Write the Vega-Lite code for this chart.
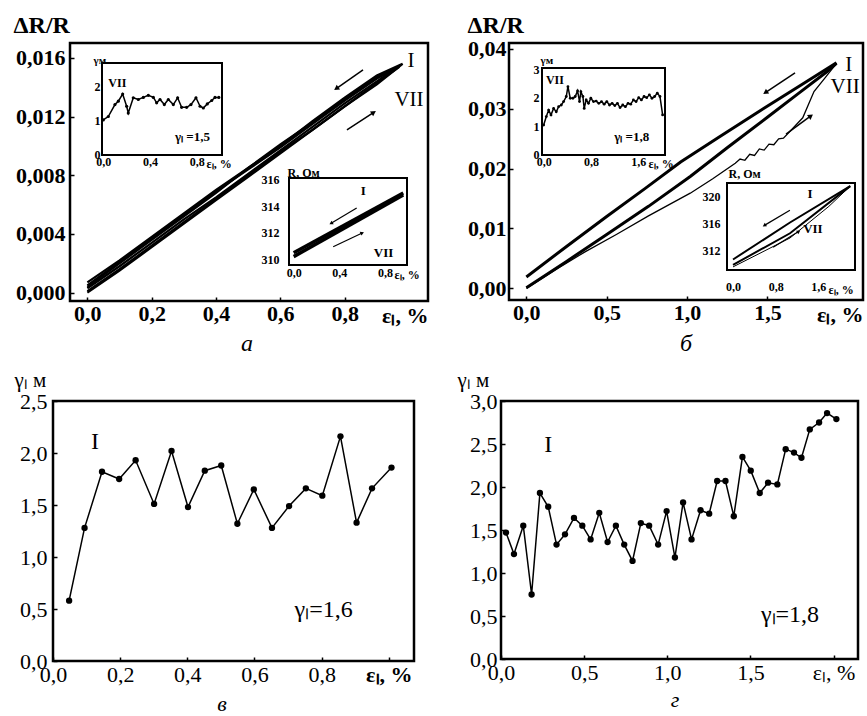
{
"$schema": "https://vega.github.io/schema/vega-lite/v6.json",
"width": 867, "height": 716, "autosize": {"type": "none"}, "padding": 0,
"background": "white",
"config": {
 "view": {"stroke": null},
 "font": "Liberation Serif",
 "style": {"guide-label": {"font": "Liberation Serif"}, "guide-title": {"font": "Liberation Serif"}},
 "axis": {"grid": false, "domain": false, "ticks": true, "tickColor": "black", "tickWidth": 1.5, "labelColor": "black", "titleColor": "black", "labelFont": "Liberation Serif", "titleFont": "Liberation Serif", "labelFlush": false, "labelOverlap": false, "zindex": 1, "titleFontWeight": "normal", "titlePadding": 0},
 "text": {"font": "Liberation Serif", "color": "black"},
 "line": {"color": "black"},
 "point": {"color": "black"}
},
"datasets": {
 "aLoop": [
  {"c":1,"o":0,"e":0,"v":0.0001},{"c":1,"o":1,"e":0.1,"v":0.0016},{"c":1,"o":2,"e":0.2,"v":0.0032},{"c":1,"o":3,"e":0.3,"v":0.0048},{"c":1,"o":4,"e":0.4,"v":0.0064},{"c":1,"o":5,"e":0.5,"v":0.008},{"c":1,"o":6,"e":0.6,"v":0.0096},{"c":1,"o":7,"e":0.7,"v":0.0111},{"c":1,"o":8,"e":0.8,"v":0.0127},{"c":1,"o":9,"e":0.9,"v":0.0143},{"c":1,"o":10,"e":0.97,"v":0.0154},
  {"c":1,"o":11,"e":0.9,"v":0.0146},{"c":1,"o":12,"e":0.8,"v":0.0131},{"c":1,"o":13,"e":0.7,"v":0.0115},{"c":1,"o":14,"e":0.6,"v":0.0099},{"c":1,"o":15,"e":0.5,"v":0.0084},{"c":1,"o":16,"e":0.4,"v":0.0069},{"c":1,"o":17,"e":0.3,"v":0.0053},{"c":1,"o":18,"e":0.2,"v":0.0037},{"c":1,"o":19,"e":0.1,"v":0.0021},{"c":1,"o":20,"e":0,"v":0.0005},
  {"c":2,"o":0,"e":0,"v":0.0003},{"c":2,"o":1,"e":0.1,"v":0.0018},{"c":2,"o":2,"e":0.2,"v":0.0034},{"c":2,"o":3,"e":0.3,"v":0.005},{"c":2,"o":4,"e":0.4,"v":0.0065},{"c":2,"o":5,"e":0.5,"v":0.0081},{"c":2,"o":6,"e":0.6,"v":0.0097},{"c":2,"o":7,"e":0.7,"v":0.0113},{"c":2,"o":8,"e":0.8,"v":0.0129},{"c":2,"o":9,"e":0.9,"v":0.0144},{"c":2,"o":10,"e":0.96,"v":0.0153},
  {"c":2,"o":11,"e":0.9,"v":0.0147},{"c":2,"o":12,"e":0.8,"v":0.0132},{"c":2,"o":13,"e":0.7,"v":0.0116},{"c":2,"o":14,"e":0.6,"v":0.0101},{"c":2,"o":15,"e":0.5,"v":0.0085},{"c":2,"o":16,"e":0.4,"v":0.007},{"c":2,"o":17,"e":0.3,"v":0.0054},{"c":2,"o":18,"e":0.2,"v":0.0038},{"c":2,"o":19,"e":0.1,"v":0.0022},{"c":2,"o":20,"e":0,"v":0.0007},
  {"c":3,"o":0,"e":0,"v":0.0},{"c":3,"o":1,"e":0.1,"v":0.0015},{"c":3,"o":2,"e":0.2,"v":0.0031},{"c":3,"o":3,"e":0.3,"v":0.0047},{"c":3,"o":4,"e":0.4,"v":0.0063},{"c":3,"o":5,"e":0.5,"v":0.0079},{"c":3,"o":6,"e":0.6,"v":0.0095},{"c":3,"o":7,"e":0.7,"v":0.0111},{"c":3,"o":8,"e":0.8,"v":0.0127},{"c":3,"o":9,"e":0.9,"v":0.0142},{"c":3,"o":10,"e":0.98,"v":0.0156},
  {"c":3,"o":11,"e":0.9,"v":0.0148},{"c":3,"o":12,"e":0.8,"v":0.0133},{"c":3,"o":13,"e":0.7,"v":0.0117},{"c":3,"o":14,"e":0.6,"v":0.01},{"c":3,"o":15,"e":0.5,"v":0.0085},{"c":3,"o":16,"e":0.4,"v":0.0068},{"c":3,"o":17,"e":0.3,"v":0.0052},{"c":3,"o":18,"e":0.2,"v":0.0036},{"c":3,"o":19,"e":0.1,"v":0.002},{"c":3,"o":20,"e":0,"v":0.0004}
 ],
 "aArrow": [
  {"a":"back","o":0,"e":0.857,"v":0.01518},{"a":"back","o":1,"e":0.776,"v":0.01395},
  {"a":"fwd","o":0,"e":0.807,"v":0.01109},{"a":"fwd","o":1,"e":0.888,"v":0.01225}
 ],
 "a1": [
  {"e":0,"g":1.01},{"e":0.043,"g":1.11},{"e":0.1,"g":1.46},{"e":0.129,"g":1.56},{"e":0.166,"g":1.77},{"e":0.2,"g":1.41},{"e":0.214,"g":1.21},{"e":0.257,"g":1.66},{"e":0.3,"g":1.61},{"e":0.343,"g":1.67},{"e":0.386,"g":1.73},{"e":0.429,"g":1.67},{"e":0.457,"g":1.51},{"e":0.486,"g":1.61},{"e":0.523,"g":1.46},{"e":0.557,"g":1.61},{"e":0.6,"g":1.46},{"e":0.637,"g":1.66},{"e":0.671,"g":1.38},{"e":0.714,"g":1.38},{"e":0.751,"g":1.46},{"e":0.794,"g":1.66},{"e":0.829,"g":1.41},{"e":0.857,"g":1.36},{"e":0.891,"g":1.48},{"e":0.929,"g":1.58},{"e":0.957,"g":1.67},{"e":0.99,"g":1.67}
 ],
 "a2": [
  {"l":"lo","o":0,"e":0,"r":310.2},{"l":"lo","o":1,"e":0.96,"r":314.85},
  {"l":"hi","o":0,"e":0,"r":310.5},{"l":"hi","o":1,"e":0.96,"r":315.0}
 ],
 "a2Arrow": [
  {"a":"back","o":0,"e":0.552,"r":313.86},{"a":"back","o":1,"e":0.332,"r":312.73},
  {"a":"fwd","o":0,"e":0.346,"r":310.95},{"a":"fwd","o":1,"e":0.596,"r":311.97}
 ],
 "bMain": [
  {"s":"up","o":0,"e":0,"v":0.0019},{"s":"up","o":1,"e":0.25,"v":0.007},{"s":"up","o":2,"e":0.5,"v":0.012},{"s":"up","o":3,"e":0.74,"v":0.0167},{"s":"up","o":4,"e":0.96,"v":0.0211},{"s":"up","o":5,"e":1.2,"v":0.0253},{"s":"up","o":6,"e":1.45,"v":0.0296},{"s":"up","o":7,"e":1.7,"v":0.0338},{"s":"up","o":8,"e":1.93,"v":0.0377},
  {"s":"mid","o":0,"e":0,"v":0.0001},{"s":"mid","o":1,"e":0.25,"v":0.0045},{"s":"mid","o":2,"e":0.5,"v":0.009},{"s":"mid","o":3,"e":0.76,"v":0.0137},{"s":"mid","o":4,"e":1.02,"v":0.0187},{"s":"mid","o":5,"e":1.25,"v":0.0235},{"s":"mid","o":6,"e":1.5,"v":0.0286},{"s":"mid","o":7,"e":1.7,"v":0.0327},{"s":"mid","o":8,"e":1.87,"v":0.0362},{"s":"mid","o":9,"e":1.93,"v":0.0376},
  {"s":"low","o":0,"e":0,"v":0.0},{"s":"low","o":1,"e":0.2,"v":0.0034},{"s":"low","o":2,"e":0.365,"v":0.0061},{"s":"low","o":3,"e":0.56,"v":0.009},{"s":"low","o":4,"e":0.76,"v":0.0121},{"s":"low","o":5,"e":1.02,"v":0.0159},{"s":"low","o":6,"e":1.16,"v":0.0183},{"s":"low","o":7,"e":1.3,"v":0.0209},{"s":"low","o":8,"e":1.33,"v":0.0216},{"s":"low","o":9,"e":1.36,"v":0.0214},{"s":"low","o":10,"e":1.39,"v":0.0224},{"s":"low","o":11,"e":1.42,"v":0.0222},{"s":"low","o":12,"e":1.45,"v":0.0233},{"s":"low","o":13,"e":1.48,"v":0.0231},{"s":"low","o":14,"e":1.51,"v":0.0241},{"s":"low","o":15,"e":1.54,"v":0.024},{"s":"low","o":16,"e":1.57,"v":0.025},{"s":"low","o":17,"e":1.6,"v":0.0251},{"s":"low","o":18,"e":1.65,"v":0.0265},{"s":"low","o":19,"e":1.72,"v":0.0285},{"s":"low","o":20,"e":1.79,"v":0.0329},{"s":"low","o":21,"e":1.86,"v":0.0352},{"s":"low","o":22,"e":1.93,"v":0.0376}
 ],
 "bArrow": [
  {"a":"back","o":0,"e":1.672,"v":0.036},{"a":"back","o":1,"e":1.492,"v":0.0328},
  {"a":"fwd","o":0,"e":1.616,"v":0.02577},{"a":"fwd","o":1,"e":1.766,"v":0.02872}
 ],
 "b1": [
  {"e":0,"g":1.04},{"e":0.045,"g":1.34},{"e":0.084,"g":1.57},{"e":0.124,"g":1.4},{"e":0.168,"g":1.63},{"e":0.213,"g":1.51},{"e":0.253,"g":1.69},{"e":0.298,"g":1.75},{"e":0.337,"g":1.87},{"e":0.382,"g":2.05},{"e":0.41,"g":2.4},{"e":0.449,"g":1.99},{"e":0.494,"g":1.99},{"e":0.533,"g":2.05},{"e":0.573,"g":2.25},{"e":0.606,"g":1.87},{"e":0.629,"g":2.22},{"e":0.663,"g":2.05},{"e":0.685,"g":1.63},{"e":0.719,"g":1.93},{"e":0.758,"g":1.81},{"e":0.797,"g":1.99},{"e":0.842,"g":1.87},{"e":0.887,"g":1.89},{"e":0.932,"g":1.81},{"e":0.977,"g":1.87},{"e":1.022,"g":1.78},{"e":1.067,"g":1.87},{"e":1.112,"g":1.75},{"e":1.157,"g":1.81},{"e":1.202,"g":1.73},{"e":1.246,"g":1.81},{"e":1.291,"g":1.66},{"e":1.336,"g":1.75},{"e":1.381,"g":1.69},{"e":1.426,"g":1.81},{"e":1.471,"g":1.78},{"e":1.516,"g":1.93},{"e":1.561,"g":1.87},{"e":1.606,"g":2.01},{"e":1.651,"g":1.93},{"e":1.696,"g":2.05},{"e":1.741,"g":2.01},{"e":1.786,"g":2.11},{"e":1.83,"g":1.99},{"e":1.875,"g":2.05},{"e":1.92,"g":2.17},{"e":1.965,"g":2.05},{"e":2.01,"g":1.4}
 ],
 "b2": [
  {"l":"up","o":0,"e":0,"r":310.7},{"l":"up","o":1,"e":1.07,"r":316.2},{"l":"up","o":2,"e":2.2,"r":321.6},
  {"l":"mid","o":0,"e":0,"r":309.9},{"l":"mid","o":1,"e":1.07,"r":314.6},{"l":"mid","o":2,"e":2.2,"r":321.6},
  {"l":"low","o":0,"e":0,"r":309.6},{"l":"low","o":1,"e":1.07,"r":313.9},{"l":"low","o":2,"e":1.8,"r":318.6},{"l":"low","o":3,"e":2.2,"r":321.6}
 ],
 "b2Arrow": [
  {"a":"back","o":0,"e":1.068,"r":318.03},{"a":"back","o":1,"e":0.597,"r":315.81},
  {"a":"fwd","o":0,"e":0.753,"r":312.51},{"a":"fwd","o":1,"e":1.224,"r":314.82}
 ],
 "vData": [
  {"e":0.048,"g":0.58},{"e":0.094,"g":1.28},{"e":0.146,"g":1.82},{"e":0.197,"g":1.75},{"e":0.246,"g":1.93},{"e":0.301,"g":1.51},{"e":0.353,"g":2.02},{"e":0.402,"g":1.48},{"e":0.452,"g":1.83},{"e":0.501,"g":1.88},{"e":0.549,"g":1.32},{"e":0.598,"g":1.65},{"e":0.652,"g":1.28},{"e":0.703,"g":1.49},{"e":0.753,"g":1.66},{"e":0.802,"g":1.59},{"e":0.856,"g":2.16},{"e":0.904,"g":1.33},{"e":0.95,"g":1.66},{"e":1.008,"g":1.86}
 ],
 "gData": [
  {"e":0.03,"g":1.47},{"e":0.078,"g":1.22},{"e":0.134,"g":1.55},{"e":0.184,"g":0.75},{"e":0.234,"g":1.93},{"e":0.284,"g":1.77},{"e":0.334,"g":1.33},{"e":0.385,"g":1.45},{"e":0.439,"g":1.64},{"e":0.489,"g":1.55},{"e":0.539,"g":1.39},{"e":0.591,"g":1.7},{"e":0.641,"g":1.36},{"e":0.691,"g":1.55},{"e":0.741,"g":1.33},{"e":0.791,"g":1.14},{"e":0.841,"g":1.58},{"e":0.891,"g":1.55},{"e":0.945,"g":1.33},{"e":0.996,"g":1.72},
  {"e":1.046,"g":1.18},{"e":1.095,"g":1.82},{"e":1.146,"g":1.39},{"e":1.2,"g":1.73},{"e":1.252,"g":1.69},{"e":1.3,"g":2.07},{"e":1.35,"g":2.07},{"e":1.4,"g":1.66},{"e":1.452,"g":2.35},{"e":1.502,"g":2.19},{"e":1.556,"g":1.93},{"e":1.606,"g":2.05},{"e":1.662,"g":2.03},{"e":1.712,"g":2.44},{"e":1.762,"g":2.4},{"e":1.807,"g":2.34},{"e":1.857,"g":2.67},{"e":1.913,"g":2.75},{"e":1.961,"g":2.86},{"e":2.017,"g":2.79}
 ]
},
"resolve": {"scale": {"x": "independent", "y": "independent"}, "axis": {"x": "independent", "y": "independent"}},
"layer": [
 {"layer": [
  {"data": {"values": [{}]},
   "mark": {"type": "rect", "fillOpacity": 0, "stroke": "black", "strokeWidth": 2.5},
   "encoding": {
    "x": {"datum": -0.054, "type": "quantitative", "scale": {"domain": [-0.054, 1.059], "range": [70, 428], "nice": false, "zero": false},
     "axis": {"orient": "bottom", "offset": -415, "values": [0, 0.2, 0.4, 0.6, 0.8], "labelExpr": "replace(format(datum.value, '.1f'), '.', ',')", "labelFont": "Liberation Serif", "titleFont": "Liberation Serif", "labelFontSize": 22, "labelFontWeight": "bold", "labelPadding": 6, "tickSize": -4, "title": "εₗ, %", "titleX": 428, "titleY": 14, "titleAlign": "right", "titleBaseline": "middle", "titleAngle": 0, "titleFontSize": 22, "titleFontWeight": "bold"}},
    "x2": {"datum": 1.059},
    "y": {"datum": -0.00057, "type": "quantitative", "scale": {"domain": [-0.00057, 0.01702], "range": [301, 43], "nice": false, "zero": false},
     "axis": {"orient": "left", "offset": -70, "values": [0, 0.004, 0.008, 0.012, 0.016], "labelExpr": "replace(format(datum.value, '.3f'), '.', ',')", "labelFont": "Liberation Serif", "titleFont": "Liberation Serif", "labelFontSize": 22, "labelFontWeight": "bold", "labelPadding": 9, "tickSize": -4, "title": "ΔR/R", "titleX": -57, "titleY": 32, "titleAlign": "left", "titleBaseline": "alphabetic", "titleAngle": 0, "titleFontSize": 24, "titleFontWeight": "bold"}},
    "y2": {"datum": 0.01702}
   }},
  {"data": {"name": "aLoop"}, "mark": {"type": "line", "strokeWidth": 2.2},
   "encoding": {"x": {"field": "e", "type": "quantitative"}, "y": {"field": "v", "type": "quantitative"}, "detail": {"field": "c"}, "order": {"field": "o", "type": "quantitative"}}},
  {"data": {"name": "aArrow"}, "mark": {"type": "line", "strokeWidth": 1.5},
   "encoding": {"x": {"field": "e", "type": "quantitative"}, "y": {"field": "v", "type": "quantitative"}, "detail": {"field": "a"}, "order": {"field": "o", "type": "quantitative"}}},
  {"data": {"name": "aArrow"}, "transform": [{"filter": "datum.a == 'back' && datum.o == 1"}], "mark": {"type": "point", "shape": "triangle", "filled": true, "size": 35, "angle": 235, "opacity": 1},
   "encoding": {"x": {"field": "e", "type": "quantitative"}, "y": {"field": "v", "type": "quantitative"}}},
  {"data": {"name": "aArrow"}, "transform": [{"filter": "datum.a == 'fwd' && datum.o == 1"}], "mark": {"type": "point", "shape": "triangle", "filled": true, "size": 35, "angle": 57, "opacity": 1},
   "encoding": {"x": {"field": "e", "type": "quantitative"}, "y": {"field": "v", "type": "quantitative"}}},
  {"data": {"values": [{}]}, "mark": {"type": "text", "fontSize": 21},
   "encoding": {"x": {"datum": 1.006}, "y": {"datum": 0.01576}, "text": {"value": "I"}}},
  {"data": {"values": [{}]}, "mark": {"type": "text", "fontSize": 21},
   "encoding": {"x": {"datum": 1.0}, "y": {"datum": 0.0131}, "text": {"value": "VII"}}},
  {"data": {"values": [{}]}, "mark": {"type": "text", "fontSize": 24, "fontStyle": "italic"},
   "encoding": {"x": {"datum": 0.496}, "y": {"datum": -0.0035}, "text": {"value": "а"}}}
 ]},
 {"layer": [
  {"data": {"values": [{}]},
   "mark": {"type": "rect", "fill": "white", "stroke": "black", "strokeWidth": 2},
   "encoding": {
    "x": {"datum": -0.011, "type": "quantitative", "scale": {"domain": [-0.011, 1.017], "range": [102, 222], "nice": false, "zero": false},
     "axis": {"orient": "bottom", "offset": -561, "values": [0, 0.4, 0.8], "labelExpr": "replace(format(datum.value, '.1f'), '.', ',')", "labelFont": "Liberation Serif", "titleFont": "Liberation Serif", "labelFontSize": 12, "labelFontWeight": "bold", "labelPadding": 4, "tickSize": -3, "title": "εₗ, %", "titleX": 206, "titleY": 8, "titleAlign": "left", "titleBaseline": "middle", "titleAngle": 0, "titleFontSize": 12, "titleFontWeight": "bold"}},
    "x2": {"datum": 1.017},
    "y": {"datum": -0.02, "type": "quantitative", "scale": {"domain": [-0.02, 2.68], "range": [155, 63], "nice": false, "zero": false},
     "axis": {"orient": "left", "offset": -102, "values": [0, 1, 2], "format": "d", "labelFont": "Liberation Serif", "titleFont": "Liberation Serif", "labelFontSize": 12, "labelFontWeight": "bold", "labelPadding": 5, "tickSize": -3, "title": "γм", "titleX": -9, "titleY": 63, "titleAlign": "left", "titleBaseline": "alphabetic", "titleAngle": 0, "titleFontSize": 11, "titleFontWeight": "bold"}},
    "y2": {"datum": 2.68}
   }},
  {"data": {"name": "a1"}, "mark": {"type": "line", "strokeWidth": 1.5, "point": {"filled": true, "size": 10}},
   "encoding": {"x": {"field": "e", "type": "quantitative"}, "y": {"field": "g", "type": "quantitative"}}},
  {"data": {"values": [{}]}, "mark": {"type": "text", "fontSize": 12, "fontWeight": "bold"},
   "encoding": {"x": {"datum": 0.12}, "y": {"datum": 2.08}, "text": {"value": "VII"}}},
  {"data": {"values": [{}]}, "mark": {"type": "text", "fontSize": 13, "fontWeight": "bold"},
   "encoding": {"x": {"datum": 0.764}, "y": {"datum": 0.5}, "text": {"value": "γₗ =1,5"}}}
 ]},
 {"layer": [
  {"data": {"values": [{}]},
   "mark": {"type": "rect", "fill": "white", "stroke": "black", "strokeWidth": 2},
   "encoding": {
    "x": {"datum": -0.041, "type": "quantitative", "scale": {"domain": [-0.041, 0.993], "range": [289, 407], "nice": false, "zero": false},
     "axis": {"orient": "bottom", "offset": -451, "values": [0, 0.4, 0.8], "labelExpr": "replace(format(datum.value, '.1f'), '.', ',')", "labelFont": "Liberation Serif", "titleFont": "Liberation Serif", "labelFontSize": 12, "labelFontWeight": "bold", "labelPadding": 5, "tickSize": -3, "title": "εₗ, %", "titleX": 394, "titleY": 9, "titleAlign": "left", "titleBaseline": "middle", "titleAngle": 0, "titleFontSize": 12, "titleFontWeight": "bold"}},
    "x2": {"datum": 0.993},
    "y": {"datum": 309.57, "type": "quantitative", "scale": {"domain": [309.57, 316.13], "range": [265, 178], "nice": false, "zero": false},
     "axis": {"orient": "left", "offset": -289, "values": [310, 312, 314, 316], "format": "d", "labelFont": "Liberation Serif", "titleFont": "Liberation Serif", "labelFontSize": 12, "labelFontWeight": "bold", "labelPadding": 13, "tickSize": -3, "title": "R, Ом", "titleX": -2, "titleY": 176, "titleAlign": "left", "titleBaseline": "alphabetic", "titleAngle": 0, "titleFontSize": 12, "titleFontWeight": "bold"}},
    "y2": {"datum": 316.13}
   }},
  {"data": {"name": "a2"}, "mark": {"type": "line", "strokeWidth": 3.5},
   "encoding": {"x": {"field": "e", "type": "quantitative"}, "y": {"field": "r", "type": "quantitative"}, "detail": {"field": "l"}, "order": {"field": "o", "type": "quantitative"}}},
  {"data": {"name": "a2Arrow"}, "mark": {"type": "line", "strokeWidth": 1.2},
   "encoding": {"x": {"field": "e", "type": "quantitative"}, "y": {"field": "r", "type": "quantitative"}, "detail": {"field": "a"}, "order": {"field": "o", "type": "quantitative"}}},
  {"data": {"name": "a2Arrow"}, "transform": [{"filter": "datum.a == 'back' && datum.o == 1"}], "mark": {"type": "point", "shape": "triangle", "filled": true, "size": 18, "angle": 239, "opacity": 1},
   "encoding": {"x": {"field": "e", "type": "quantitative"}, "y": {"field": "r", "type": "quantitative"}}},
  {"data": {"name": "a2Arrow"}, "transform": [{"filter": "datum.a == 'fwd' && datum.o == 1"}], "mark": {"type": "point", "shape": "triangle", "filled": true, "size": 18, "angle": 65, "opacity": 1},
   "encoding": {"x": {"field": "e", "type": "quantitative"}, "y": {"field": "r", "type": "quantitative"}}},
  {"data": {"values": [{}]}, "mark": {"type": "text", "fontSize": 13, "fontWeight": "bold"},
   "encoding": {"x": {"datum": 0.611}, "y": {"datum": 315.12}, "text": {"value": "I"}}},
  {"data": {"values": [{}]}, "mark": {"type": "text", "fontSize": 13, "fontWeight": "bold"},
   "encoding": {"x": {"datum": 0.787}, "y": {"datum": 310.46}, "text": {"value": "VII"}}}
 ]},
 {"layer": [
  {"data": {"values": [{}]},
   "mark": {"type": "rect", "fillOpacity": 0, "stroke": "black", "strokeWidth": 2.5},
   "encoding": {
    "x": {"datum": -0.108, "type": "quantitative", "scale": {"domain": [-0.108, 2.095], "range": [509, 863], "nice": false, "zero": false},
     "axis": {"orient": "bottom", "offset": -416, "values": [0, 0.5, 1, 1.5], "labelExpr": "replace(format(datum.value, '.1f'), '.', ',')", "labelFont": "Liberation Serif", "titleFont": "Liberation Serif", "labelFontSize": 22, "labelFontWeight": "bold", "labelPadding": 6, "tickSize": -4, "title": "εₗ, %", "titleX": 863, "titleY": 14, "titleAlign": "right", "titleBaseline": "middle", "titleAngle": 0, "titleFontSize": 22, "titleFontWeight": "bold"}},
    "x2": {"datum": 2.095},
    "y": {"datum": -0.00195, "type": "quantitative", "scale": {"domain": [-0.00195, 0.041], "range": [300, 43], "nice": false, "zero": false},
     "axis": {"orient": "left", "offset": -509, "values": [0, 0.01, 0.02, 0.03, 0.04], "labelExpr": "replace(format(datum.value, '.2f'), '.', ',')", "labelFont": "Liberation Serif", "titleFont": "Liberation Serif", "labelFontSize": 22, "labelFontWeight": "bold", "labelPadding": 7, "tickSize": -4, "title": "ΔR/R", "titleX": -42, "titleY": 32, "titleAlign": "left", "titleBaseline": "alphabetic", "titleAngle": 0, "titleFontSize": 24, "titleFontWeight": "bold"}},
    "y2": {"datum": 0.041}
   }},
  {"data": {"name": "bMain"}, "transform": [{"filter": "datum.s != 'low'"}], "mark": {"type": "line", "strokeWidth": 3},
   "encoding": {"x": {"field": "e", "type": "quantitative"}, "y": {"field": "v", "type": "quantitative"}, "detail": {"field": "s"}, "order": {"field": "o", "type": "quantitative"}}},
  {"data": {"name": "bMain"}, "transform": [{"filter": "datum.s == 'low'"}], "mark": {"type": "line", "strokeWidth": 1.3},
   "encoding": {"x": {"field": "e", "type": "quantitative"}, "y": {"field": "v", "type": "quantitative"}, "order": {"field": "o", "type": "quantitative"}}},
  {"data": {"name": "bArrow"}, "mark": {"type": "line", "strokeWidth": 1.5},
   "encoding": {"x": {"field": "e", "type": "quantitative"}, "y": {"field": "v", "type": "quantitative"}, "detail": {"field": "a"}, "order": {"field": "o", "type": "quantitative"}}},
  {"data": {"name": "bArrow"}, "transform": [{"filter": "datum.a == 'back' && datum.o == 1"}], "mark": {"type": "point", "shape": "triangle", "filled": true, "size": 35, "angle": 237, "opacity": 1},
   "encoding": {"x": {"field": "e", "type": "quantitative"}, "y": {"field": "v", "type": "quantitative"}}},
  {"data": {"name": "bArrow"}, "transform": [{"filter": "datum.a == 'fwd' && datum.o == 1"}], "mark": {"type": "point", "shape": "triangle", "filled": true, "size": 35, "angle": 54, "opacity": 1},
   "encoding": {"x": {"field": "e", "type": "quantitative"}, "y": {"field": "v", "type": "quantitative"}}},
  {"data": {"values": [{}]}, "mark": {"type": "text", "fontSize": 21},
   "encoding": {"x": {"datum": 2.006}, "y": {"datum": 0.03737}, "text": {"value": "I"}}},
  {"data": {"values": [{}]}, "mark": {"type": "text", "fontSize": 21},
   "encoding": {"x": {"datum": 1.984}, "y": {"datum": 0.0336}, "text": {"value": "VII"}}},
  {"data": {"values": [{}]}, "mark": {"type": "text", "fontSize": 24, "fontStyle": "italic"},
   "encoding": {"x": {"datum": 0.994}, "y": {"datum": -0.00932}, "text": {"value": "б"}}}
 ]},
 {"layer": [
  {"data": {"values": [{}]},
   "mark": {"type": "rect", "fill": "white", "stroke": "black", "strokeWidth": 2},
   "encoding": {
    "x": {"datum": -0.028, "type": "quantitative", "scale": {"domain": [-0.028, 2.05], "range": [542, 665], "nice": false, "zero": false},
     "axis": {"orient": "bottom", "offset": -561, "values": [0, 0.8, 1.6], "labelExpr": "replace(format(datum.value, '.1f'), '.', ',')", "labelFont": "Liberation Serif", "titleFont": "Liberation Serif", "labelFontSize": 12, "labelFontWeight": "bold", "labelPadding": 4, "tickSize": -3, "title": "εₗ, %", "titleX": 648, "titleY": 8, "titleAlign": "left", "titleBaseline": "middle", "titleAngle": 0, "titleFontSize": 12, "titleFontWeight": "bold"}},
    "x2": {"datum": 2.05},
    "y": {"datum": -0.02, "type": "quantitative", "scale": {"domain": [-0.02, 3.06], "range": [155, 68], "nice": false, "zero": false},
     "axis": {"orient": "left", "offset": -542, "values": [0, 1, 2, 3], "format": "d", "labelFont": "Liberation Serif", "titleFont": "Liberation Serif", "labelFontSize": 12, "labelFontWeight": "bold", "labelPadding": 6, "tickSize": -3, "title": "γм", "titleX": -2, "titleY": 63, "titleAlign": "left", "titleBaseline": "alphabetic", "titleAngle": 0, "titleFontSize": 11, "titleFontWeight": "bold"}},
    "y2": {"datum": 3.06}
   }},
  {"data": {"name": "b1"}, "mark": {"type": "line", "strokeWidth": 1.5, "point": {"filled": true, "size": 8}},
   "encoding": {"x": {"field": "e", "type": "quantitative"}, "y": {"field": "g", "type": "quantitative"}}},
  {"data": {"values": [{}]}, "mark": {"type": "text", "fontSize": 12, "fontWeight": "bold"},
   "encoding": {"x": {"datum": 0.19}, "y": {"datum": 2.63}, "text": {"value": "VII"}}},
  {"data": {"values": [{}]}, "mark": {"type": "text", "fontSize": 13, "fontWeight": "bold"},
   "encoding": {"x": {"datum": 1.488}, "y": {"datum": 0.6}, "text": {"value": "γₗ =1,8"}}}
 ]},
 {"layer": [
  {"data": {"values": [{}]},
   "mark": {"type": "rect", "fill": "white", "stroke": "black", "strokeWidth": 2},
   "encoding": {
    "x": {"datum": -0.113, "type": "quantitative", "scale": {"domain": [-0.113, 2.29], "range": [727, 855], "nice": false, "zero": false},
     "axis": {"orient": "bottom", "offset": -446, "values": [0, 0.8, 1.6], "labelExpr": "replace(format(datum.value, '.1f'), '.', ',')", "labelFont": "Liberation Serif", "titleFont": "Liberation Serif", "labelFontSize": 12, "labelFontWeight": "bold", "labelPadding": 14, "tickSize": -3, "title": "εₗ, %", "titleX": 828, "titleY": 19, "titleAlign": "left", "titleBaseline": "middle", "titleAngle": 0, "titleFontSize": 12, "titleFontWeight": "bold"}},
    "x2": {"datum": 2.29},
    "y": {"datum": 309.14, "type": "quantitative", "scale": {"domain": [309.14, 322.07], "range": [270, 183], "nice": false, "zero": false},
     "axis": {"orient": "left", "offset": -727, "values": [312, 316, 320], "format": "d", "labelFont": "Liberation Serif", "titleFont": "Liberation Serif", "labelFontSize": 12, "labelFontWeight": "bold", "labelPadding": 10, "tickSize": -3, "title": "R, Ом", "titleX": 1, "titleY": 177, "titleAlign": "left", "titleBaseline": "alphabetic", "titleAngle": 0, "titleFontSize": 12, "titleFontWeight": "bold"}},
    "y2": {"datum": 322.07}
   }},
  {"data": {"name": "b2"}, "transform": [{"filter": "datum.l != 'low'"}], "mark": {"type": "line", "strokeWidth": 2},
   "encoding": {"x": {"field": "e", "type": "quantitative"}, "y": {"field": "r", "type": "quantitative"}, "detail": {"field": "l"}, "order": {"field": "o", "type": "quantitative"}}},
  {"data": {"name": "b2"}, "transform": [{"filter": "datum.l == 'low'"}], "mark": {"type": "line", "strokeWidth": 1},
   "encoding": {"x": {"field": "e", "type": "quantitative"}, "y": {"field": "r", "type": "quantitative"}, "order": {"field": "o", "type": "quantitative"}}},
  {"data": {"name": "b2Arrow"}, "mark": {"type": "line", "strokeWidth": 1.2},
   "encoding": {"x": {"field": "e", "type": "quantitative"}, "y": {"field": "r", "type": "quantitative"}, "detail": {"field": "a"}, "order": {"field": "o", "type": "quantitative"}}},
  {"data": {"name": "b2Arrow"}, "transform": [{"filter": "datum.a == 'back' && datum.o == 1"}], "mark": {"type": "point", "shape": "triangle", "filled": true, "size": 18, "angle": 239, "opacity": 1},
   "encoding": {"x": {"field": "e", "type": "quantitative"}, "y": {"field": "r", "type": "quantitative"}}},
  {"data": {"name": "b2Arrow"}, "transform": [{"filter": "datum.a == 'fwd' && datum.o == 1"}], "mark": {"type": "point", "shape": "triangle", "filled": true, "size": 18, "angle": 58, "opacity": 1},
   "encoding": {"x": {"field": "e", "type": "quantitative"}, "y": {"field": "r", "type": "quantitative"}}},
  {"data": {"values": [{}]}, "mark": {"type": "text", "fontSize": 13, "fontWeight": "bold"},
   "encoding": {"x": {"datum": 1.444}, "y": {"datum": 320.4}, "text": {"value": "I"}}},
  {"data": {"values": [{}]}, "mark": {"type": "text", "fontSize": 13, "fontWeight": "bold"},
   "encoding": {"x": {"datum": 1.5}, "y": {"datum": 315.17}, "text": {"value": "VII"}}}
 ]},
 {"layer": [
  {"data": {"values": [{}]},
   "mark": {"type": "rect", "fillOpacity": 0, "stroke": "black", "strokeWidth": 2.5},
   "encoding": {
    "x": {"datum": 0, "type": "quantitative", "scale": {"domain": [0, 1.075], "range": [53, 414], "nice": false, "zero": false},
     "axis": {"orient": "bottom", "offset": -55, "values": [0, 0.2, 0.4, 0.6, 0.8, 1.0], "labelExpr": "datum.value > 0.95 ? 'εₗ, %' : replace(format(datum.value, '.1f'), '.', ',')", "labelFont": "Liberation Serif", "labelFontSize": 22, "labelFontWeight": {"condition": {"test": "datum.value > 0.95", "value": "bold"}, "value": "normal"}, "labelPadding": 7, "tickSize": -4, "title": null}},
    "x2": {"datum": 1.075},
    "y": {"datum": 0, "type": "quantitative", "scale": {"domain": [0, 2.5], "range": [661, 401], "nice": false, "zero": false},
     "axis": {"orient": "left", "offset": -53, "values": [0, 0.5, 1, 1.5, 2, 2.5], "labelExpr": "replace(format(datum.value, '.1f'), '.', ',')", "labelFont": "Liberation Serif", "titleFont": "Liberation Serif", "labelFontSize": 22, "labelPadding": 10, "tickSize": -4, "title": "γₗ м", "titleX": -39, "titleY": 386, "titleAlign": "left", "titleBaseline": "alphabetic", "titleAngle": 0, "titleFontSize": 21}},
    "y2": {"datum": 2.5}
   }},
  {"data": {"name": "vData"}, "mark": {"type": "line", "strokeWidth": 1.5, "point": {"filled": true, "size": 40}},
   "encoding": {"x": {"field": "e", "type": "quantitative"}, "y": {"field": "g", "type": "quantitative"}}},
  {"data": {"values": [{}]}, "mark": {"type": "text", "fontSize": 24},
   "encoding": {"x": {"datum": 0.125}, "y": {"datum": 2.11}, "text": {"value": "I"}}},
  {"data": {"values": [{}]}, "mark": {"type": "text", "fontSize": 24},
   "encoding": {"x": {"datum": 0.806}, "y": {"datum": 0.49}, "text": {"value": "γₗ=1,6"}}},
  {"data": {"values": [{}]}, "mark": {"type": "text", "fontSize": 22, "fontStyle": "italic"},
   "encoding": {"x": {"datum": 0.503}, "y": {"datum": -0.41}, "text": {"value": "в"}}}
 ]},
 {"layer": [
  {"data": {"values": [{}]},
   "mark": {"type": "rect", "fillOpacity": 0, "stroke": "black", "strokeWidth": 2.5},
   "encoding": {
    "x": {"datum": 0, "type": "quantitative", "scale": {"domain": [0, 2.147], "range": [501, 858], "nice": false, "zero": false},
     "axis": {"orient": "bottom", "offset": -57, "values": [0, 0.5, 1, 1.5, 2], "labelExpr": "datum.value > 1.9 ? 'εₗ, %' : replace(format(datum.value, '.1f'), '.', ',')", "labelFont": "Liberation Serif", "labelFontSize": 22, "labelPadding": 7, "tickSize": -4, "title": null}},
    "x2": {"datum": 2.147},
    "y": {"datum": 0, "type": "quantitative", "scale": {"domain": [0, 3.0], "range": [659, 401], "nice": false, "zero": false},
     "axis": {"orient": "left", "offset": -501, "values": [0, 0.5, 1, 1.5, 2, 2.5, 3], "labelExpr": "replace(format(datum.value, '.1f'), '.', ',')", "labelFont": "Liberation Serif", "titleFont": "Liberation Serif", "labelFontSize": 22, "labelPadding": 8, "tickSize": -4, "title": "γₗ м", "titleX": -44, "titleY": 386, "titleAlign": "left", "titleBaseline": "alphabetic", "titleAngle": 0, "titleFontSize": 21}},
    "y2": {"datum": 3.0}
   }},
  {"data": {"name": "gData"}, "mark": {"type": "line", "strokeWidth": 1.5, "point": {"filled": true, "size": 40}},
   "encoding": {"x": {"field": "e", "type": "quantitative"}, "y": {"field": "g", "type": "quantitative"}}},
  {"data": {"values": [{}]}, "mark": {"type": "text", "fontSize": 24},
   "encoding": {"x": {"datum": 0.284}, "y": {"datum": 2.49}, "text": {"value": "I"}}},
  {"data": {"values": [{}]}, "mark": {"type": "text", "fontSize": 24},
   "encoding": {"x": {"datum": 1.738}, "y": {"datum": 0.51}, "text": {"value": "γₗ=1,8"}}},
  {"data": {"values": [{}]}, "mark": {"type": "text", "fontSize": 22, "fontStyle": "italic"},
   "encoding": {"x": {"datum": 1.046}, "y": {"datum": -0.48}, "text": {"value": "г"}}}
 ]}
]
}
